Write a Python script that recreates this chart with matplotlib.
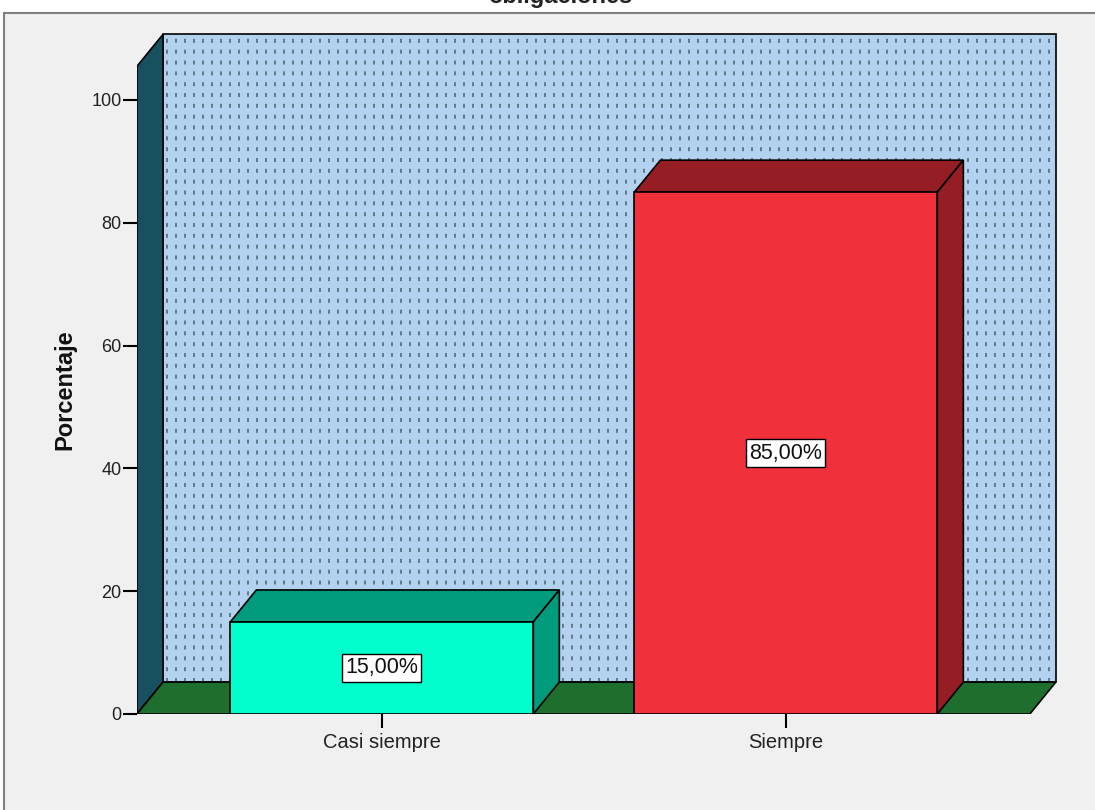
import numpy as np
import matplotlib
matplotlib.use("Agg")
import matplotlib.pyplot as plt
from matplotlib.patches import Polygon, Rectangle

plt.rcParams['font.family'] = ['Liberation Sans', 'DejaVu Sans']

categorias = ['Casi siempre', 'Siempre']
porcentajes = [15.0, 85.0]
etiquetas = ['15,00%', '85,00%']
y_ticks = [0, 20, 40, 60, 80, 100]

frente = ['#00ffcc', '#f0303a']
sombra = ['#009a7c', '#951e24']

# geometria de la vista 3D (unidades de datos)
ancho = 0.75
dx, dy = 0.0644, 5.2
x_izq, x_der = -0.606, 1.604
y_techo = 105.5

fig = plt.figure(figsize=(10.95, 8.1), dpi=100)
fig.patch.set_facecolor('white')
marco = Rectangle((4 / 1095, -0.05), 1.2, 1.05 - 12.5 / 810,
                  transform=fig.transFigure, fc='#f0f0f0', ec='#7f7f7f',
                  lw=1.5, zorder=-10)
fig.patches.append(marco)
fig.text(560 / 1095, 1 - 3 / 810, 'obligaciones', ha='center', va='baseline',
         fontsize=17, fontweight='bold', color='#222222')

ax = fig.add_axes([137 / 1095, 96 / 810, 923 / 1095, 686 / 810])
ax.patch.set_visible(False)
ax.set_xlim(x_izq, x_izq + 923 / 404)
ax.set_ylim(0, 686 / 6.14)
for s in ax.spines.values():
    s.set_visible(False)

# pared del fondo con punteado
fondo = Polygon([(x_izq + dx, dy), (x_der + dx, dy), (x_der + dx, y_techo + dy),
                 (x_izq + dx, y_techo + dy)], closed=True, fc='#b2d2f0',
                ec='black', lw=1.2, zorder=1)
ax.add_patch(fondo)
paso = 9 / 404
for xv in np.arange(x_izq + dx + 4 / 404, x_der + dx, paso):
    ln, = ax.plot([xv, xv], [dy, y_techo + dy], color='#56687a', lw=1.2,
                  dashes=(2.4, 4.1), zorder=1.5)
    ln.set_clip_path(fondo)

# pared izquierda
ax.add_patch(Polygon([(x_izq, 0), (x_izq + dx, dy), (x_izq + dx, y_techo + dy),
                      (x_izq, y_techo)], closed=True, fc='#17505f', ec='black',
                     lw=1.2, zorder=2))
# piso
ax.add_patch(Polygon([(x_izq, 0), (x_der, 0), (x_der + dx, dy), (x_izq + dx, dy)],
                     closed=True, fc='#1e6e2e', ec='black', lw=1.2, zorder=2))

# barras
for i, v in enumerate(porcentajes):
    x0, x1 = i - ancho / 2, i + ancho / 2
    ax.add_patch(Polygon([(x0, v), (x1, v), (x1 + dx, v + dy), (x0 + dx, v + dy)],
                         closed=True, fc=sombra[i], ec='black', lw=1.2, zorder=3))
    ax.add_patch(Polygon([(x1, 0), (x1 + dx, dy), (x1 + dx, v + dy), (x1, v)],
                         closed=True, fc=sombra[i], ec='black', lw=1.2, zorder=3))
    ax.add_patch(Rectangle((x0, 0), ancho, v, fc=frente[i], ec='black',
                           lw=1.2, zorder=4))
    ax.text(i, v / 2, etiquetas[i], ha='center', va='center', fontsize=15.5,
            color='#111111', zorder=5,
            bbox=dict(boxstyle='square,pad=0.15', fc='white', ec='black', lw=1))

ax.set_xticks(range(len(categorias)))
ax.set_xticklabels(categorias, fontsize=14.5, color='#222222')
ax.set_yticks(y_ticks)
ax.set_yticklabels([str(t) for t in y_ticks], fontsize=13, color='#222222')
ax.tick_params(axis='x', length=10, width=1.5, pad=4)
ax.tick_params(axis='y', length=10, width=1.5, pad=1)

fig.text(65 / 1095, 1 - 390 / 810, 'Porcentaje', rotation=90, ha='center',
         va='center', fontsize=17, fontweight='bold', color='#111111')

fig.savefig('out.png', dpi=100, facecolor=fig.get_facecolor())
